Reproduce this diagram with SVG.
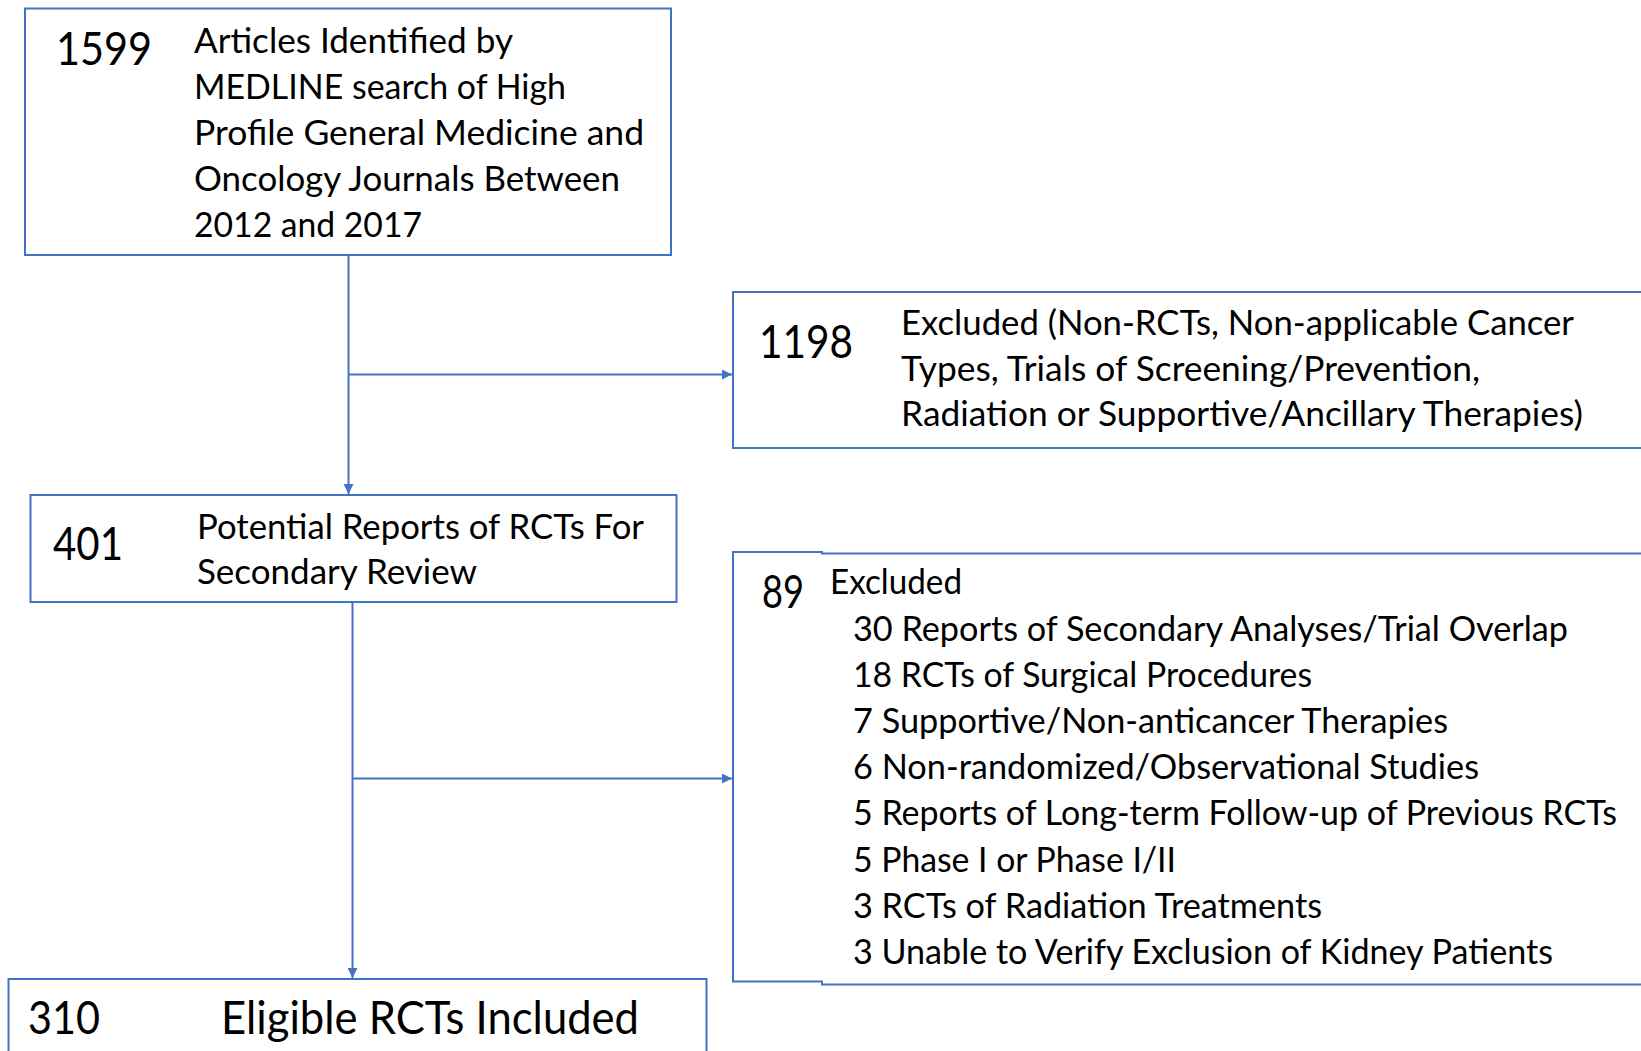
<svg xmlns="http://www.w3.org/2000/svg" width="1641" height="1051" viewBox="0 0 1641 1051">
  <defs>
    <marker id="arrow" viewBox="0 0 10 10" refX="10" refY="5" markerWidth="5" markerHeight="5" orient="auto" markerUnits="strokeWidth">
      <path d="M0,0 L10,5 L0,10 z" fill="#4472C4"/>
    </marker>
    <style>
      .box { fill: #ffffff; stroke: #4472C4; stroke-width: 2; }
      .link { fill: none; stroke: #4472C4; stroke-width: 2; marker-end: url(#arrow); }
      .num { font-family: Lato, "Open Sans", sans-serif; font-size: 46px; fill: #000; }
      .txt { font-family: Lato, "Open Sans", sans-serif; font-size: 34px; fill: #000; }
    </style>
  </defs>
  <rect width="1641" height="1051" fill="#ffffff"/>

  <g id="connectors">
    <path class="link" d="M348.5,255 V494"/>
    <path class="link" d="M348.5,374.5 H732"/>
    <path class="link" d="M352.5,602 V978"/>
    <path class="link" d="M352.5,778.5 H732"/>
  </g>

  <g id="node-identified">
    <rect class="box" x="25" y="8.5" width="646" height="246.5"/>
    <text class="num" x="56" y="65" textLength="96" lengthAdjust="spacingAndGlyphs">1599</text>
    <text class="txt" x="194" y="53" textLength="319" lengthAdjust="spacingAndGlyphs">Articles Identified by</text>
    <text class="txt" x="194" y="99" textLength="372" lengthAdjust="spacingAndGlyphs">MEDLINE search of High</text>
    <text class="txt" x="194" y="145" textLength="450" lengthAdjust="spacingAndGlyphs">Profile General Medicine and</text>
    <text class="txt" x="194" y="191" textLength="426" lengthAdjust="spacingAndGlyphs">Oncology Journals Between</text>
    <text class="txt" x="194" y="237" textLength="228" lengthAdjust="spacingAndGlyphs">2012 and 2017</text>
  </g>

  <g id="node-excluded-1198">
    <rect class="box" x="733" y="292" width="920" height="156"/>
    <text class="num" x="759" y="358" textLength="94" lengthAdjust="spacingAndGlyphs">1198</text>
    <text class="txt" x="901" y="335" textLength="673" lengthAdjust="spacingAndGlyphs">Excluded (Non-RCTs, Non-applicable Cancer</text>
    <text class="txt" x="901" y="381" textLength="579" lengthAdjust="spacingAndGlyphs">Types, Trials of Screening/Prevention,</text>
    <text class="txt" x="901" y="426" textLength="682" lengthAdjust="spacingAndGlyphs">Radiation or Supportive/Ancillary Therapies)</text>
  </g>

  <g id="node-potential">
    <rect class="box" x="30.5" y="495" width="646" height="107"/>
    <text class="num" x="53" y="560" textLength="70" lengthAdjust="spacingAndGlyphs">401</text>
    <text class="txt" x="197" y="539" textLength="447" lengthAdjust="spacingAndGlyphs">Potential Reports of RCTs For</text>
    <text class="txt" x="197" y="584" textLength="280" lengthAdjust="spacingAndGlyphs">Secondary Review</text>
  </g>

  <g id="node-excluded-89">
    <path class="box" d="M1660,553.5 H822 V552 H733 V981.5 H822 V984.5 H1660 Z"/>
    <text class="num" x="762" y="608" font-size="41" textLength="42" lengthAdjust="spacingAndGlyphs">89</text>
    <text class="txt" x="830" y="594" textLength="132" lengthAdjust="spacingAndGlyphs">Excluded</text>
    <text class="txt" x="853" y="640.5" textLength="715" lengthAdjust="spacingAndGlyphs">30 Reports of Secondary Analyses/Trial Overlap</text>
    <text class="txt" x="853" y="686.7" textLength="459" lengthAdjust="spacingAndGlyphs">18 RCTs of Surgical Procedures</text>
    <text class="txt" x="853" y="732.9" textLength="595" lengthAdjust="spacingAndGlyphs">7 Supportive/Non-anticancer Therapies</text>
    <text class="txt" x="853" y="779.1" textLength="626" lengthAdjust="spacingAndGlyphs">6 Non-randomized/Observational Studies</text>
    <text class="txt" x="853" y="825.3" textLength="764" lengthAdjust="spacingAndGlyphs">5 Reports of Long-term Follow-up of Previous RCTs</text>
    <text class="txt" x="853" y="871.5" textLength="323" lengthAdjust="spacingAndGlyphs">5 Phase I or Phase I/II</text>
    <text class="txt" x="853" y="917.7" textLength="469" lengthAdjust="spacingAndGlyphs">3 RCTs of Radiation Treatments</text>
    <text class="txt" x="853" y="963.9" textLength="700" lengthAdjust="spacingAndGlyphs">3 Unable to Verify Exclusion of Kidney Patients</text>
  </g>

  <g id="node-included">
    <rect class="box" x="8.5" y="979" width="698" height="90"/>
    <text class="num" x="28" y="1034" textLength="72" lengthAdjust="spacingAndGlyphs">310</text>
    <text class="num" x="221" y="1034" font-size="44" textLength="418" lengthAdjust="spacingAndGlyphs">Eligible RCTs Included</text>
  </g>
</svg>
